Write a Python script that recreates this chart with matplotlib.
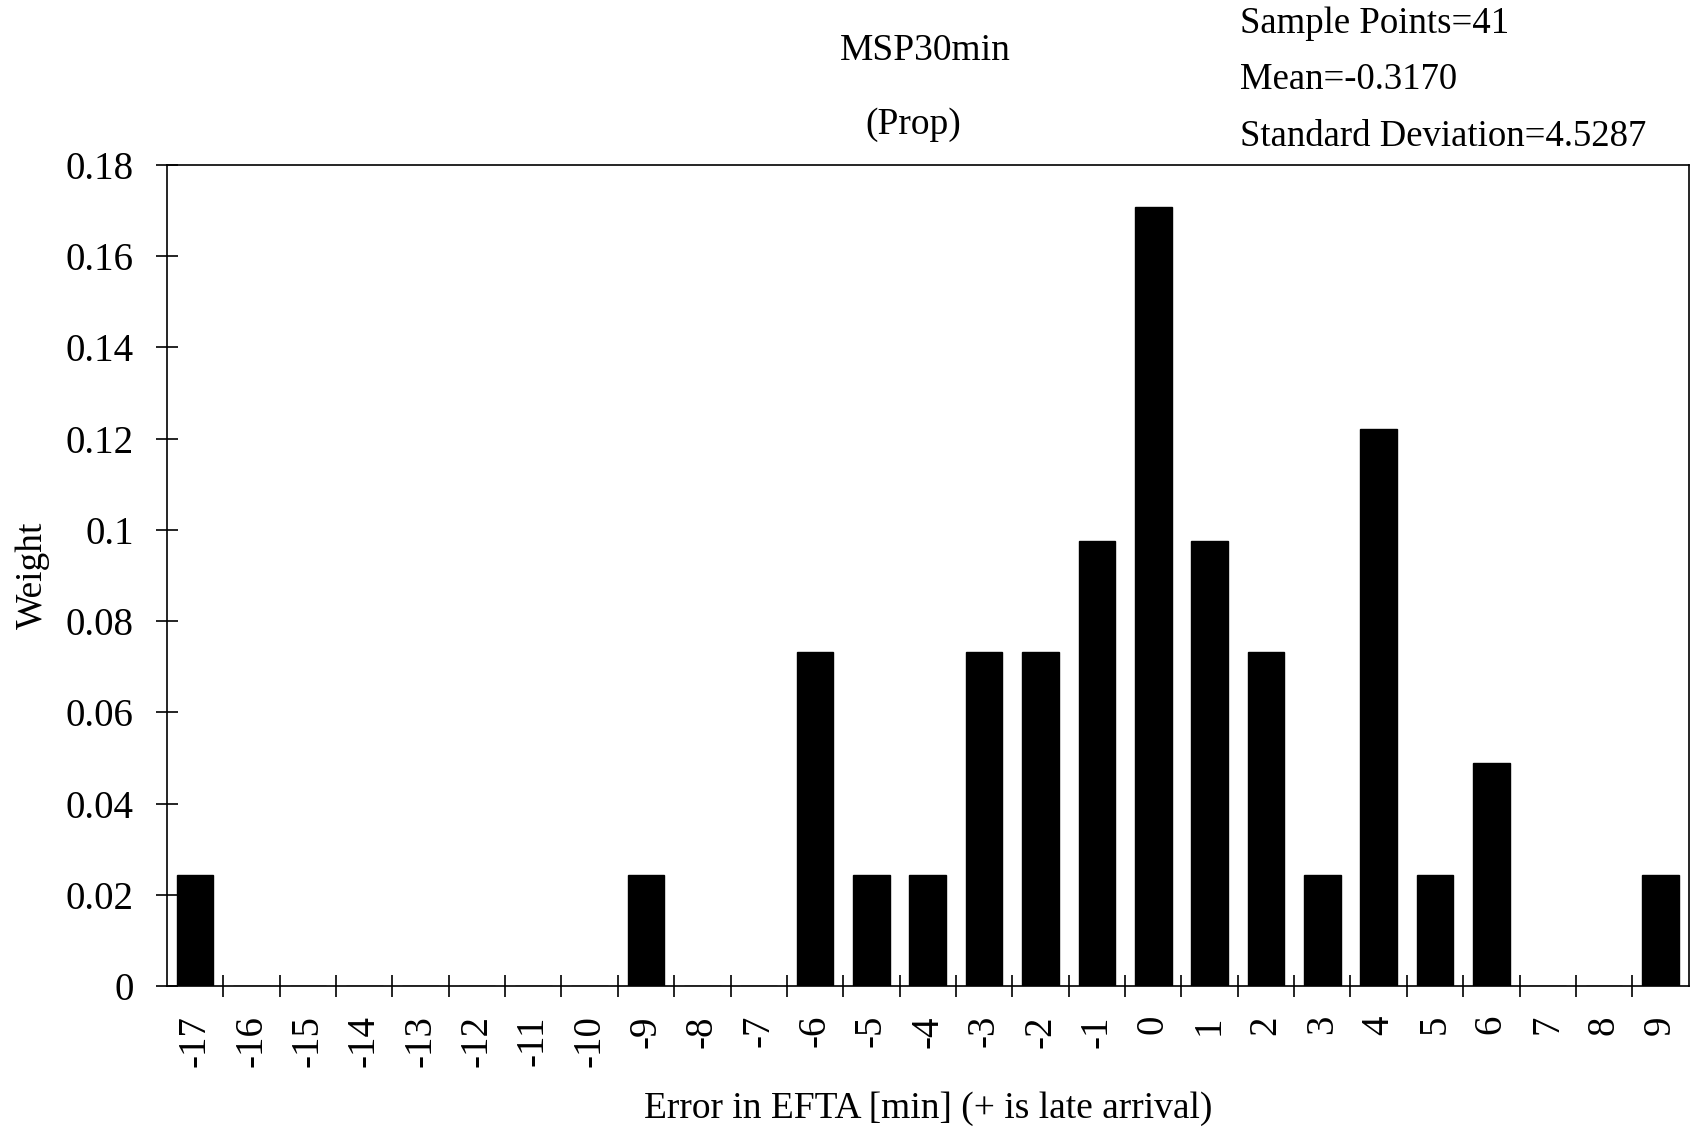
import numpy as np
import matplotlib
matplotlib.use("Agg")
import matplotlib.pyplot as plt
from matplotlib.ticker import FixedLocator

plt.rcParams['font.family'] = ['Liberation Serif', 'DejaVu Serif']

# error in EFTA [min] and the weight of each bin (count / 41)
errors = list(range(-17, 10))
weights = [0.0244, 0, 0, 0, 0, 0, 0, 0, 0.0244, 0, 0, 0.0732, 0.0244, 0.0244,
           0.0732, 0.0732, 0.0976, 0.1707, 0.0976, 0.0732, 0.0244, 0.1220,
           0.0244, 0.0488, 0, 0, 0.0244]
y_ticks = [0, 0.02, 0.04, 0.06, 0.08, 0.1, 0.12, 0.14, 0.16, 0.18]
y_tick_labels = ['0', '0.02', '0.04', '0.06', '0.08', '0.1', '0.12', '0.14', '0.16', '0.18']
stats_lines = ['Sample Points=41', 'Mean=-0.3170', 'Standard Deviation=4.5287']

fig = plt.figure(figsize=(16.92, 11.29), dpi=100)
ax = fig.add_axes([0.0987, 0.1267, 0.8993, 0.7272])

ax.bar(errors, weights, width=0.65, color='black', edgecolor='black')
ax.set_xlim(errors[0] - 0.5, errors[-1] + 0.5)
ax.set_ylim(0, 0.18)

ax.set_xticks(errors)
ax.set_xticklabels([str(e) for e in errors], rotation=90, fontsize=28)
ax.xaxis.set_minor_locator(FixedLocator(np.arange(errors[0] + 0.5, errors[-1], 1.0)))
ax.tick_params(axis='x', which='major', length=0, pad=21)
ax.tick_params(axis='x', which='minor', direction='inout', length=16, width=1.2)

ax.set_yticks(y_ticks)
ax.set_yticklabels(y_tick_labels, fontsize=28)
ax.tick_params(axis='y', direction='inout', length=16, width=1.2, pad=16)

for s in ax.spines.values():
    s.set_linewidth(1.2)

ax.set_xlabel('Error in EFTA [min] (+ is late arrival)', fontsize=27, va='center')
ax.xaxis.set_label_coords(0.5, -0.15)
ax.set_ylabel('Weight', fontsize=27, va='center')
ax.yaxis.set_label_coords(-0.088, 0.5)

fig.text(0.547, 0.955, 'MSP30min', ha='center', va='center', fontsize=27)
fig.text(0.540, 0.890, '(Prop)', ha='center', va='center', fontsize=27)
for i, line in enumerate(stats_lines):
    fig.text(0.733, 0.979 - i * 0.05, line, ha='left', va='center', fontsize=26.5)

fig.savefig('out.png', dpi=100)
